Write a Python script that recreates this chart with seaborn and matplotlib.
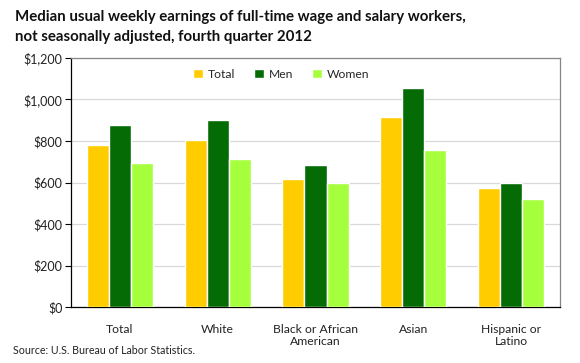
import pandas as pd
import seaborn as sns
import matplotlib.pyplot as plt
from matplotlib.ticker import FuncFormatter

groups = ["Total", "White", "Black or African\nAmerican", "Asian", "Hispanic or\nLatino"]
total = [781, 805, 617, 916, 572]
men = [877, 901, 683, 1055, 599]
women = [692, 713, 596, 757, 519]

series = ["Total", "Men", "Women"]
colors = ["#FFCC00", "#056C05", "#A6FF3C"]

rows = []
for name, vals in zip(series, [total, men, women]):
    for g, v in zip(groups, vals):
        rows.append({"group": g, "series": name, "value": v})
df = pd.DataFrame(rows)

sns.set_theme(style="white")
plt.rcParams["font.family"] = ["Lato", "DejaVu Sans"]

fig = plt.figure(figsize=(5.8, 3.63), dpi=100)
ax = fig.add_axes([71 / 580, 1 - 307 / 363, 489 / 580, 249 / 363])

sns.barplot(data=df, x="group", y="value", hue="series", palette=colors,
            width=0.675, gap=0, saturation=1, ax=ax, zorder=3)

ax.set_ylim(0, 1200)
ax.set_yticks(range(0, 1201, 200))
ax.yaxis.set_major_formatter(FuncFormatter(lambda v, p: f"${v:,.0f}"))
ax.yaxis.grid(True, color="#D9D9D9", linewidth=0.9, zorder=0)
ax.set_axisbelow(True)
ax.set_xlabel("")
ax.set_ylabel("")

for side in ["top", "right"]:
    ax.spines[side].set_color("#868686")
    ax.spines[side].set_linewidth(0.9)
for side in ["left", "bottom"]:
    ax.spines[side].set_color("#000000")
    ax.spines[side].set_linewidth(0.9)

ax.tick_params(axis="y", which="major", left=True, length=4, width=0.8,
               color="#000000", labelsize=9, labelcolor="#222222", pad=2)
ax.tick_params(axis="x", bottom=False, labelsize=8.7, labelcolor="#222222", pad=6)

ax.legend(loc="upper center", bbox_to_anchor=(0.43, 0.99), ncol=3, frameon=False,
          fontsize=8.7, handlelength=0.8, handleheight=0.8, handletextpad=0.4,
          columnspacing=1.6, borderaxespad=0.3)

fig.text(15 / 580, 1 - 17 / 363, "Median usual weekly earnings of full-time wage and salary workers,",
         fontsize=10.8, fontweight="bold", va="center", ha="left", color="#111111")
fig.text(15 / 580, 1 - 37 / 363, "not seasonally adjusted, fourth quarter 2012",
         fontsize=10.8, fontweight="bold", va="center", ha="left", color="#111111")
fig.text(13 / 580, 1 - 351 / 363, "Source: U.S. Bureau of Labor Statistics.",
         fontsize=7.7, va="center", ha="left", color="#222222")

fig.savefig("out.png", dpi=100)
